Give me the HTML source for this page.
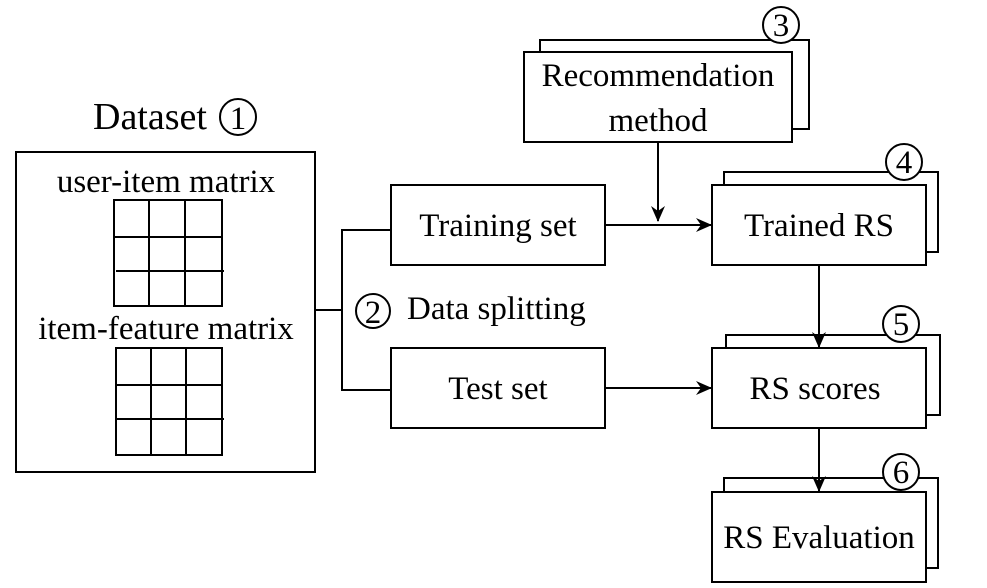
<!DOCTYPE html>
<html><head><style>
html,body{margin:0;padding:0;background:#fff;}
svg{display:block;}
text{font-family:"Liberation Serif",serif;fill:#000;}
</style></head><body>
<svg width="987" height="588" viewBox="0 0 987 588" xmlns="http://www.w3.org/2000/svg">
<defs>
<marker id="a" markerWidth="16" markerHeight="16" refX="15" refY="8" orient="auto" markerUnits="userSpaceOnUse">
<path d="M0,1 L16,8 L0,15 L5,8 Z" fill="#000"/>
</marker>
</defs>
<g fill="#fff" stroke="#000" stroke-width="2">
<rect x="16" y="152" width="299" height="320"/>
<rect x="114" y="200" width="108" height="106"/>
<line x1="149" y1="200" x2="149" y2="306"/><line x1="185" y1="200" x2="185" y2="306"/>
<line x1="114" y1="237" x2="222" y2="237"/><line x1="116" y1="271" x2="224" y2="271"/>
<rect x="116" y="348" width="106" height="107"/>
<line x1="151" y1="348" x2="151" y2="455"/><line x1="186" y1="348" x2="186" y2="455"/>
<line x1="115" y1="385" x2="222" y2="385"/><line x1="116" y1="419" x2="224" y2="419"/>
<rect x="540" y="40" width="269" height="89"/>
<rect x="524" y="52" width="268" height="90"/>
<rect x="391" y="185" width="214" height="80"/>
<rect x="391" y="348" width="214" height="80"/>
<rect x="724" y="172" width="214" height="80"/>
<rect x="712" y="185" width="214" height="80"/>
<rect x="726" y="335" width="214" height="80"/>
<rect x="712" y="348" width="214" height="80"/>
<rect x="724" y="478" width="214" height="90"/>
<rect x="712" y="492" width="214" height="90"/>
<circle cx="781" cy="25" r="18"/>
<circle cx="904" cy="162" r="18"/>
<circle cx="901" cy="324" r="18"/>
<circle cx="901" cy="472" r="18"/>
<circle cx="373" cy="311" r="17"/>
<circle cx="238" cy="117" r="18"/>
</g>
<g stroke="#000" stroke-width="2" fill="none">
<polyline points="315,310 342,310"/>
<polyline points="391,230 342,230 342,390 391,390"/>
<line x1="605" y1="225" x2="711" y2="225" marker-end="url(#a)"/>
<line x1="658" y1="142" x2="658" y2="221" marker-end="url(#a)"/>
<line x1="605" y1="388" x2="711" y2="388" marker-end="url(#a)"/>
<line x1="819" y1="265" x2="819" y2="347" marker-end="url(#a)"/>
<line x1="819" y1="428" x2="819" y2="491" marker-end="url(#a)"/>
</g>
<g font-size="33" text-anchor="middle">
<text x="93" y="129" font-size="38" text-anchor="start">Dataset</text>
<text x="238" y="129" font-size="33">1</text>
<text x="166" y="192">user-item matrix</text>
<text x="166" y="339">item-feature matrix</text>
<text x="658" y="86">Recommendation</text>
<text x="658" y="131">method</text>
<text x="498" y="236">Training set</text>
<text x="498" y="399">Test set</text>
<text x="819" y="236">Trained RS</text>
<text x="815" y="399">RS scores</text>
<text x="819" y="548">RS Evaluation</text>
<text x="781" y="36">3</text>
<text x="904" y="173">4</text>
<text x="901" y="335">5</text>
<text x="901" y="483">6</text>
<text x="373" y="323">2</text>
<text x="407" y="319" text-anchor="start">Data splitting</text>
</g>
</svg>
</body></html>
